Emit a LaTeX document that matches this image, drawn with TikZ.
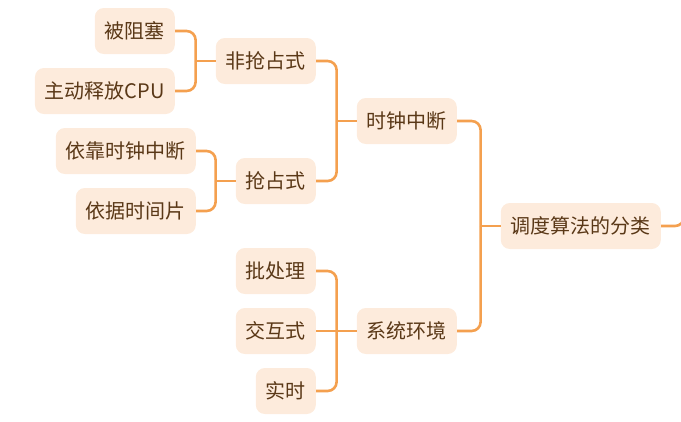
\documentclass[tikz,border=0pt]{standalone}
\usepackage{fontspec}
\setmainfont{Noto Sans CJK SC}
\usepackage{tikz}
\usetikzlibrary{positioning}

\definecolor{boxfill}{HTML}{FDEBDC}
\definecolor{boxtext}{HTML}{5A3817}
\definecolor{linkcol}{HTML}{F4A04F}

\begin{document}
\begin{tikzpicture}[x=1pt,y=-1pt,
	box/.style={fill=boxfill, text=boxtext, rounded corners=9pt, minimum height=46pt, inner xsep=10pt, anchor=east, font=\fontsize{20}{20}\selectfont},
	link/.style={draw=linkcol, line width=2.6pt, rounded corners=9pt}]
	\useasboundingbox (0,0) rectangle (681,421);

	\node[box] (zuse) at (175,31) {被阻塞};
	\node[box] (shifang) at (175,91) {主动释放CPU};
	\node[box] (feiqz) at (316,61) {非抢占式};
	\node[box] (yikao) at (196,151) {依靠时钟中断};
	\node[box] (yiju) at (196,211) {依据时间片};
	\node[box] (qz) at (316,181) {抢占式};
	\node[box] (shizhong) at (457,121) {时钟中断};
	\node[box] (fenlei) at (661,226) {调度算法的分类};
	\node[box] (pcl) at (316,271) {批处理};
	\node[box] (jhs) at (316,331) {交互式};
	\node[box] (ss) at (316,391) {实时};
	\node[box] (xthj) at (457,331) {系统环境};
	\coordinate (up) at (684,-40);

	\draw[link] (zuse.east) -| ([xshift=-20pt]feiqz.west);
	\draw[link] (shifang.east) -| ([xshift=-20pt]feiqz.west);
	\draw[link] ([xshift=-20pt]feiqz.west) -- (feiqz.west);

	\draw[link] (yikao.east) -| ([xshift=-20pt]qz.west);
	\draw[link] (yiju.east) -| ([xshift=-20pt]qz.west);
	\draw[link] ([xshift=-20pt]qz.west) -- (qz.west);

	\draw[link] (feiqz.east) -| ([xshift=-20pt]shizhong.west);
	\draw[link] (qz.east) -| ([xshift=-20pt]shizhong.west);
	\draw[link] ([xshift=-20pt]shizhong.west) -- (shizhong.west);

	\draw[link] (pcl.east) -| ([xshift=-20pt]xthj.west);
	\draw[link] (ss.east) -| ([xshift=-20pt]xthj.west);
	\draw[link] (jhs.east) -- (xthj.west);

	\draw[link] (shizhong.east) -| ([xshift=-20pt]fenlei.west);
	\draw[link] (xthj.east) -| ([xshift=-20pt]fenlei.west);
	\draw[link] ([xshift=-20pt]fenlei.west) -- (fenlei.west);

	\draw[link] (fenlei.east) -| (up);
\end{tikzpicture}
\end{document}
